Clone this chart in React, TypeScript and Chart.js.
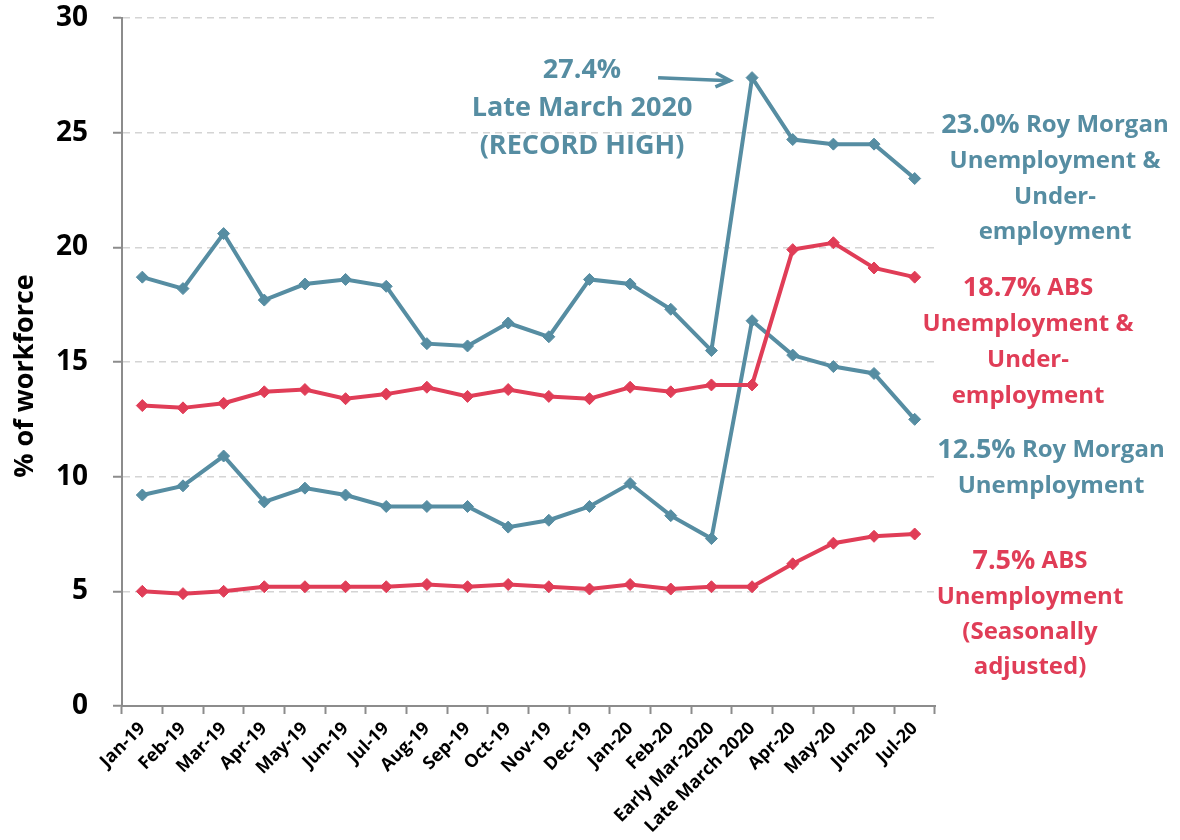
import React, { useEffect, useRef } from "react";
import { Chart, registerables } from "chart.js";

Chart.register(...registerables);

const categories = [
  "Jan-19", "Feb-19", "Mar-19", "Apr-19", "May-19", "Jun-19", "Jul-19", "Aug-19",
  "Sep-19", "Oct-19", "Nov-19", "Dec-19", "Jan-20", "Feb-20", "Early Mar-2020",
  "Late March 2020", "Apr-20", "May-20", "Jun-20", "Jul-20",
];

const rmUnemploymentUnder = [18.7, 18.2, 20.6, 17.7, 18.4, 18.6, 18.3, 15.8, 15.7, 16.7, 16.1, 18.6, 18.4, 17.3, 15.5, 27.4, 24.7, 24.5, 24.5, 23.0];
const absUnemploymentUnder = [13.1, 13.0, 13.2, 13.7, 13.8, 13.4, 13.6, 13.9, 13.5, 13.8, 13.5, 13.4, 13.9, 13.7, 14.0, 14.0, 19.9, 20.2, 19.1, 18.7];
const rmUnemployment = [9.2, 9.6, 10.9, 8.9, 9.5, 9.2, 8.7, 8.7, 8.7, 7.8, 8.1, 8.7, 9.7, 8.3, 7.3, 16.8, 15.3, 14.8, 14.5, 12.5];
const absUnemployment = [5.0, 4.9, 5.0, 5.2, 5.2, 5.2, 5.2, 5.3, 5.2, 5.3, 5.2, 5.1, 5.3, 5.1, 5.2, 5.2, 6.2, 7.1, 7.4, 7.5];

const yMin = 0;
const yMax = 30;
const yStep = 5;

const TEAL = "#568da2";
const RED = "#e03d57";
const FONT = "'Open Sans', 'DejaVu Sans', sans-serif";

type Seg = { t: string; size: number };
type Line = { segs: Seg[]; y: number };
type Block = { color: string; cx: number; lines: Line[] };

const blocks: Block[] = [
  {
    color: TEAL, cx: 582,
    lines: [
      { segs: [{ t: "27.4%", size: 27 }], y: 70 },
      { segs: [{ t: "Late March 2020", size: 27 }], y: 108 },
      { segs: [{ t: "(RECORD HIGH)", size: 27 }], y: 146 },
    ],
  },
  {
    color: TEAL, cx: 1055,
    lines: [
      { segs: [{ t: "23.0%", size: 27 }, { t: " Roy Morgan", size: 24 }], y: 125 },
      { segs: [{ t: "Unemployment &", size: 24 }], y: 161 },
      { segs: [{ t: "Under-", size: 24 }], y: 197 },
      { segs: [{ t: "employment", size: 24 }], y: 232 },
    ],
  },
  {
    color: RED, cx: 1028,
    lines: [
      { segs: [{ t: "18.7%", size: 27 }, { t: " ABS", size: 24 }], y: 288 },
      { segs: [{ t: "Unemployment &", size: 24 }], y: 324 },
      { segs: [{ t: "Under-", size: 24 }], y: 360 },
      { segs: [{ t: "employment", size: 24 }], y: 396 },
    ],
  },
  {
    color: TEAL, cx: 1051,
    lines: [
      { segs: [{ t: "12.5%", size: 27 }, { t: " Roy Morgan", size: 24 }], y: 450 },
      { segs: [{ t: "Unemployment", size: 24 }], y: 486 },
    ],
  },
  {
    color: RED, cx: 1030,
    lines: [
      { segs: [{ t: "7.5%", size: 27 }, { t: " ABS", size: 24 }], y: 561 },
      { segs: [{ t: "Unemployment", size: 24 }], y: 597 },
      { segs: [{ t: "(Seasonally", size: 24 }], y: 632 },
      { segs: [{ t: "adjusted)", size: 24 }], y: 667 },
    ],
  },
];

const annotationPlugin = {
  id: "annotations",
  afterDraw(chart: any) {
    const ctx = chart.ctx as CanvasRenderingContext2D;
    ctx.save();
    // y axis title
    ctx.save();
    ctx.translate(25, 376);
    ctx.rotate(-Math.PI / 2);
    ctx.font = `bold 27px ${FONT}`;
    ctx.fillStyle = "#000";
    ctx.textAlign = "center";
    ctx.textBaseline = "middle";
    ctx.fillText("% of workforce", 0, 0);
    ctx.restore();

    // text blocks
    ctx.textBaseline = "middle";
    ctx.textAlign = "left";
    for (const b of blocks) {
      ctx.fillStyle = b.color;
      for (const ln of b.lines) {
        let total = 0;
        for (const s of ln.segs) {
          ctx.font = `bold ${s.size}px ${FONT}`;
          total += ctx.measureText(s.t).width;
        }
        let x = b.cx - total / 2;
        for (const s of ln.segs) {
          ctx.font = `bold ${s.size}px ${FONT}`;
          ctx.fillText(s.t, x, ln.y);
          x += ctx.measureText(s.t).width;
        }
      }
    }

    // arrow pointing to record high
    const xs = chart.scales.x;
    const ys = chart.scales.y;
    const peakIdx = 15;
    const ex = xs.getPixelForValue(peakIdx) - 22;
    const ey = ys.getPixelForValue(rmUnemploymentUnder[peakIdx]) + 3;
    const sx = ex - 72;
    const sy = ey - 3;
    ctx.strokeStyle = TEAL;
    ctx.lineWidth = 3.5;
    ctx.lineCap = "butt";
    ctx.beginPath();
    ctx.moveTo(sx, sy);
    ctx.lineTo(ex, ey);
    ctx.stroke();
    const ang = Math.atan2(ey - sy, ex - sx);
    ctx.beginPath();
    ctx.moveTo(ex - 16 * Math.cos(ang - 0.45), ey - 16 * Math.sin(ang - 0.45));
    ctx.lineTo(ex, ey);
    ctx.lineTo(ex - 16 * Math.cos(ang + 0.45), ey - 16 * Math.sin(ang + 0.45));
    ctx.stroke();
    ctx.restore();
  },
};

function ds(label: string, data: number[], color: string) {
  return {
    label,
    data,
    borderColor: color,
    backgroundColor: color,
    borderWidth: 4,
    pointStyle: "rectRot",
    pointRadius: 6,
    pointBorderWidth: 1,
    pointBackgroundColor: color,
    pointBorderColor: color,
    tension: 0,
  };
}

export default function App() {
  const ref = useRef<HTMLCanvasElement | null>(null);
  useEffect(() => {
    if (!ref.current) return;
    const chart = new Chart(ref.current, {
      type: "line",
      data: {
        labels: categories,
        datasets: [
          ds("Roy Morgan Unemployment & Under-employment", rmUnemploymentUnder, TEAL),
          ds("ABS Unemployment & Under-employment", absUnemploymentUnder, RED),
          ds("Roy Morgan Unemployment", rmUnemployment, TEAL),
          ds("ABS Unemployment (Seasonally adjusted)", absUnemployment, RED),
        ],
      },
      options: {
        responsive: false,
        animation: false,
        devicePixelRatio: 1,
        layout: { padding: { left: 0, right: 245, top: 18, bottom: 0 } },
        plugins: { legend: { display: false }, tooltip: { enabled: false } },
        scales: {
          x: {
            type: "category",
            offset: true,
            grid: {
              offset: true,
              drawOnChartArea: false,
              drawTicks: true,
              tickLength: 8,
              tickColor: "#8c8c8c",
              tickWidth: 2,
            },
            border: { color: "#8c8c8c", width: 2 },
            ticks: {
              autoSkip: false,
              maxRotation: 45,
              minRotation: 45,
              padding: 4,
              color: "#000",
              font: { family: FONT, size: 18, weight: "bold" },
            },
            afterFit(scale: any) {
              scale.height = 134;
              scale.paddingLeft = 0;
              scale.paddingRight = 0;
            },
          },
          y: {
            min: yMin,
            max: yMax,
            grid: {
              color: "#d4d4d4",
              lineWidth: 1.5,
              tickLength: 9,
              tickColor: "#8c8c8c",
              tickWidth: 2,
            },
            border: { color: "#8c8c8c", width: 2, dash: [7, 5] },
            ticks: {
              stepSize: yStep,
              padding: 25,
              color: "#000",
              font: { family: FONT, size: 28, weight: "bold" },
            },
            afterFit(scale: any) {
              scale.width = 122;
              scale.paddingTop = 0;
              scale.paddingBottom = 0;
            },
          },
        },
      },
      plugins: [annotationPlugin],
    } as any);
    return () => chart.destroy();
  }, []);
  return (
    <div style={{ position: "absolute", left: 0, top: 0, width: 1180, height: 840, background: "#fff" }}>
      <canvas ref={ref} width={1180} height={840} style={{ display: "block" }} />
    </div>
  );
}
